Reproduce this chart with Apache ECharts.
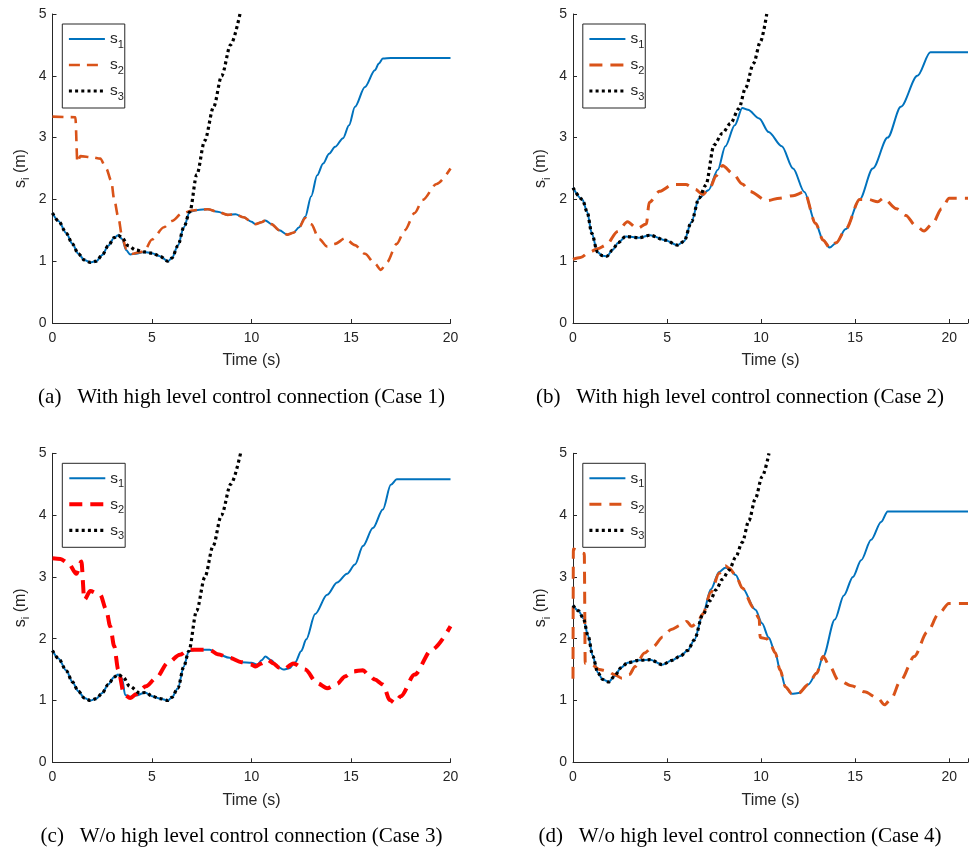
<!DOCTYPE html>
<html>
<head>
<meta charset="utf-8">
<script src="https://cdn.jsdelivr.net/npm/echarts@6/dist/echarts.min.js"></script>
<style>
html,body{margin:0;padding:0;background:#fff;}
#chart{width:971px;height:849px;}
</style>
</head>
<body>
<div id="chart"></div>
<script>
// ---------- data: [time (s), s_i (m)] ----------
const xTicksA = [0, 5, 10, 15, 20];
const yTicks = [0, 1, 2, 3, 4, 5];

const s1a = [[0,1.78],[0.3,1.65],[0.7,1.45],[1.0,1.28],[1.3,1.12],[1.6,1.02],[1.9,0.98],[2.2,1.0],[2.5,1.1],[2.8,1.25],[3.1,1.38],[3.3,1.42],[3.5,1.36],[3.7,1.18],[3.9,1.11],[4.2,1.12],[4.6,1.15],[5.0,1.13],[5.4,1.08],[5.8,1.0],[6.0,1.05],[6.3,1.25],[6.6,1.55],[6.9,1.8],[7.3,1.83],[7.8,1.84],[8.3,1.8],[8.8,1.75],[9.2,1.76],[9.6,1.71],[10.0,1.64],[10.2,1.6],[10.5,1.63],[10.7,1.66],[11.0,1.6],[11.4,1.5],[11.8,1.43],[12.1,1.46],[12.4,1.55],[12.7,1.72],[13.0,2.05],[13.3,2.39],[13.6,2.58],[13.9,2.74],[14.2,2.85],[14.6,2.99],[14.9,3.2],[15.2,3.5],[15.7,3.82],[16.2,4.09],[16.4,4.2],[16.6,4.28],[17.0,4.29],[20,4.29]];
const s2a = [[0,3.34],[1.15,3.33],[1.25,2.6],[1.4,2.7],[2.0,2.68],[2.4,2.66],[2.7,2.5],[2.95,2.3],[3.1,2.0],[3.3,1.72],[3.5,1.4],[3.7,1.2],[4.0,1.12],[4.3,1.14],[4.6,1.16],[5.0,1.35],[5.6,1.55],[6.0,1.65],[6.5,1.77],[7.0,1.82],[7.3,1.83],[7.8,1.84],[8.3,1.8],[8.8,1.75],[9.2,1.76],[9.6,1.71],[10.0,1.64],[10.2,1.6],[10.5,1.63],[10.7,1.66],[11.0,1.6],[11.4,1.5],[11.8,1.43],[12.1,1.46],[12.4,1.55],[12.7,1.7],[13.0,1.6],[13.4,1.36],[13.8,1.24],[14.2,1.28],[14.7,1.37],[15.2,1.26],[15.7,1.12],[16.2,0.96],[16.5,0.86],[16.8,0.98],[17.3,1.28],[17.7,1.5],[18.2,1.78],[18.6,1.99],[19.3,2.25],[20,2.5]];
const s3a = [[0,1.78],[0.3,1.65],[0.7,1.45],[1.0,1.28],[1.3,1.12],[1.6,1.02],[1.9,0.98],[2.2,1.0],[2.5,1.1],[2.8,1.25],[3.1,1.38],[3.3,1.42],[3.5,1.38],[3.8,1.25],[4.2,1.18],[4.6,1.15],[5.0,1.13],[5.4,1.08],[5.8,1.0],[6.0,1.05],[6.3,1.25],[6.6,1.55],[6.9,1.8],[7.25,2.4],[7.65,2.95],[8.1,3.5],[8.5,4.0],[8.95,4.5],[9.42,5.0]];

const s1b = [[0,2.19],[0.5,2.0],[0.75,1.8],[1.0,1.45],[1.3,1.15],[1.55,1.09],[1.8,1.08],[2.1,1.18],[2.4,1.3],[2.8,1.4],[3.5,1.38],[4.1,1.42],[4.9,1.34],[5.55,1.26],[5.9,1.32],[6.3,1.64],[6.7,2.02],[7.2,2.15],[7.7,2.48],[8.1,2.86],[8.6,3.2],[9.0,3.48],[9.3,3.45],[9.9,3.31],[10.4,3.09],[11.1,2.86],[11.7,2.5],[12.3,2.12],[12.9,1.61],[13.3,1.34],[13.65,1.22],[14.0,1.3],[14.5,1.52],[15.24,2.0],[15.94,2.5],[16.73,3.0],[17.43,3.5],[18.31,4.0],[19.0,4.38],[21,4.38]];
const s2b = [[0,1.03],[0.4,1.06],[0.9,1.15],[1.3,1.2],[1.76,1.26],[2.37,1.48],[2.9,1.64],[3.4,1.53],[3.9,1.6],[4.05,1.95],[4.6,2.13],[5.3,2.24],[6.0,2.24],[6.5,2.16],[6.9,2.08],[7.3,2.2],[7.6,2.38],[7.95,2.55],[8.5,2.42],[9.0,2.25],[9.4,2.13],[10.3,1.98],[11.0,2.02],[11.7,2.06],[12.3,2.12],[12.9,1.61],[13.3,1.34],[13.65,1.22],[14.0,1.3],[14.5,1.52],[15.24,2.0],[15.7,2.0],[16.2,1.96],[16.5,2.02],[17.2,1.85],[17.7,1.74],[18.2,1.58],[18.66,1.49],[19.1,1.6],[19.6,1.85],[20.0,2.02],[21,2.02]];
const s3b = [[0,2.19],[0.5,2.0],[0.75,1.8],[1.0,1.45],[1.3,1.15],[1.55,1.09],[1.8,1.08],[2.1,1.18],[2.4,1.3],[2.8,1.4],[3.5,1.38],[4.1,1.42],[4.9,1.34],[5.55,1.26],[5.9,1.32],[6.3,1.64],[6.7,2.02],[7.06,2.23],[7.5,2.88],[7.94,3.07],[8.38,3.23],[8.82,3.47],[9.17,3.8],[9.6,4.2],[9.96,4.55],[10.3,5.0]];

const s1c = [[0,1.81],[0.3,1.68],[0.7,1.48],[1.0,1.3],[1.3,1.15],[1.6,1.04],[1.9,1.0],[2.2,1.03],[2.5,1.12],[2.8,1.26],[3.1,1.38],[3.3,1.42],[3.5,1.35],[3.65,1.09],[3.9,1.06],[4.2,1.08],[4.65,1.13],[5.0,1.07],[5.4,1.03],[5.8,1.0],[6.0,1.05],[6.3,1.2],[6.6,1.55],[6.85,1.8],[7.2,1.82],[7.9,1.82],[8.3,1.75],[8.9,1.69],[9.5,1.62],[10.0,1.61],[10.3,1.58],[10.5,1.65],[10.7,1.71],[11.0,1.65],[11.3,1.55],[11.6,1.5],[11.9,1.52],[12.2,1.62],[12.5,1.8],[12.75,1.99],[13.2,2.4],[13.8,2.71],[14.3,2.91],[14.8,3.05],[15.2,3.2],[15.6,3.5],[16.1,3.79],[16.6,4.09],[17.0,4.49],[17.3,4.58],[20,4.58]];
const s2c = [[0,3.3],[0.4,3.29],[0.8,3.22],[1.2,3.05],[1.45,3.25],[1.6,2.63],[1.9,2.77],[2.4,2.71],[2.7,2.47],[2.9,2.2],[3.1,1.88],[3.3,1.5],[3.6,1.1],[3.9,1.04],[4.2,1.1],[4.7,1.23],[5.2,1.36],[5.8,1.61],[6.4,1.74],[6.85,1.82],[7.2,1.82],[7.9,1.82],[8.3,1.75],[8.9,1.69],[9.5,1.62],[10.0,1.58],[10.2,1.55],[10.5,1.6],[10.8,1.66],[11.1,1.6],[11.4,1.53],[11.6,1.5],[12.1,1.6],[12.7,1.5],[13.3,1.28],[13.8,1.2],[14.3,1.27],[14.7,1.39],[15.1,1.47],[15.6,1.49],[15.9,1.41],[16.2,1.34],[16.6,1.26],[16.95,1.01],[17.2,0.96],[17.5,1.07],[18.2,1.42],[19.05,1.82],[20,2.2]];
const s3c = [[0,1.81],[0.3,1.68],[0.7,1.48],[1.0,1.3],[1.3,1.15],[1.6,1.04],[1.9,1.0],[2.2,1.03],[2.5,1.12],[2.8,1.26],[3.1,1.38],[3.3,1.42],[3.55,1.38],[3.88,1.23],[4.39,1.12],[4.7,1.13],[5.0,1.07],[5.4,1.03],[5.8,1.0],[6.0,1.05],[6.3,1.2],[6.6,1.55],[6.85,1.8],[7.24,2.45],[7.66,3.0],[8.07,3.5],[8.49,4.0],[8.96,4.5],[9.45,5.0]];

const s1d = [[0,2.54],[0.3,2.45],[0.55,2.33],[0.8,2.05],[1.05,1.72],[1.32,1.45],[1.58,1.34],[1.9,1.3],[2.2,1.39],[2.55,1.53],[2.9,1.61],[3.5,1.65],[4.1,1.66],[4.75,1.58],[5.27,1.65],[5.7,1.72],[6.1,1.81],[6.45,1.98],[6.89,2.38],[7.33,2.8],[7.77,3.08],[8.1,3.15],[8.3,3.14],[8.65,3.03],[9.0,2.82],[9.7,2.47],[10.05,2.25],[10.4,2.02],[10.76,1.77],[11.0,1.5],[11.3,1.22],[11.63,1.11],[12.0,1.12],[12.51,1.26],[12.95,1.44],[13.3,1.71],[13.92,2.31],[14.4,2.7],[14.88,3.0],[15.32,3.27],[15.85,3.6],[16.38,3.89],[16.73,4.06],[21,4.06]];
const s2d = [[0,1.35],[0.02,3.45],[0.6,3.38],[0.65,1.6],[1.0,1.58],[1.4,1.5],[1.8,1.48],[2.2,1.42],[2.6,1.36],[3.0,1.42],[3.3,1.55],[3.8,1.77],[4.25,1.87],[4.78,2.03],[5.22,2.15],[5.75,2.22],[6.05,2.28],[6.3,2.2],[6.6,2.25],[6.9,2.4],[7.33,2.75],[7.77,3.06],[8.1,3.18],[8.3,3.14],[8.65,3.03],[9.0,2.82],[9.6,2.5],[9.9,2.32],[9.95,2.02],[10.3,2.0],[10.5,1.9],[10.76,1.77],[11.0,1.5],[11.3,1.22],[11.63,1.11],[12.0,1.12],[12.51,1.26],[12.95,1.44],[13.3,1.71],[13.66,1.55],[14.1,1.33],[14.8,1.24],[15.5,1.14],[16.2,1.04],[16.56,0.93],[16.9,1.02],[17.43,1.33],[18.14,1.71],[18.84,2.11],[19.46,2.41],[19.98,2.57],[21,2.57]];
const s3d = [[0,2.54],[0.3,2.45],[0.55,2.33],[0.8,2.05],[1.05,1.72],[1.32,1.45],[1.58,1.34],[1.9,1.3],[2.2,1.39],[2.55,1.53],[2.9,1.61],[3.5,1.65],[4.1,1.66],[4.75,1.58],[5.27,1.65],[5.7,1.72],[6.1,1.81],[6.45,1.98],[6.89,2.38],[7.3,2.62],[7.6,2.79],[7.94,2.96],[8.3,3.11],[8.65,3.32],[9.0,3.56],[9.35,3.91],[9.7,4.27],[10.05,4.62],[10.42,5.0]];

const captions = [
  '(a)\u2002 With high level control connection (Case 1)',
  '(b)\u2002 With high level control connection (Case 2)',
  '(c)\u2002 W/o high level control connection (Case 3)',
  '(d)\u2002 W/o high level control connection (Case 4)'
];
const xMax = [20, 21, 20, 21];

// ---------- styling ----------
const AX = '#262626';
const SANS = 'Liberation Sans';
const BLUE = '#0072BD', ORANGE = '#D95319', RED = '#FF0000', BLACK = '#000000';

const panels = [
  {left: 52.5, top: 14,  s: [s1a, s2a, s3a], s2c: ORANGE, s2w: 2.6, s2t: [11, 7]},
  {left: 573,  top: 14,  s: [s1b, s2b, s3b], s2c: ORANGE, s2w: 3.0, s2t: [13, 8]},
  {left: 52.5, top: 453.3, s: [s1c, s2c, s3c], s2c: RED, s2w: 4.0, s2t: [13, 8]},
  {left: 573,  top: 453.3, s: [s1d, s2d, s3d], s2c: ORANGE, s2w: 3.0, s2t: [12, 8]}
];
const tags = ['a', 'b', 'c', 'd'];

const grids = [], xAxes = [], yAxes = [], series = [], legends = [], graphics = [];
panels.forEach((p, i) => {
  grids.push({left: p.left, top: p.top, width: 398, height: 309, containLabel: false});
  xAxes.push({
    type: 'value', gridIndex: i, min: 0, max: xMax[i], interval: 5,
    axisLine: {show: true, onZero: false, lineStyle: {color: AX, width: 1}},
    axisTick: {show: true, inside: true, length: 4, lineStyle: {color: AX}},
    axisLabel: {color: AX, fontSize: 14, fontFamily: SANS, margin: 8,
      formatter: v => (xTicksA.indexOf(v) >= 0 ? String(v) : '')},
    splitLine: {show: false},
    name: 'Time (s)', nameLocation: 'middle', nameGap: 30,
    nameTextStyle: {color: AX, fontSize: 16, fontFamily: SANS}
  });
  yAxes.push({
    type: 'value', gridIndex: i, min: 0, max: 5, interval: 1,
    axisLine: {show: true, onZero: false, lineStyle: {color: AX, width: 1}},
    axisTick: {show: true, inside: true, length: 4, lineStyle: {color: AX}},
    axisLabel: {color: AX, fontSize: 14, fontFamily: SANS, margin: 6,
      formatter: v => (yTicks.indexOf(v) >= 0 ? String(v) : '')},
    splitLine: {show: false},
    name: '{m|s}{sub|i}{m| (m)}', nameLocation: 'middle', nameGap: 21,
    nameTextStyle: {color: AX, fontFamily: SANS, rich: {
      m: {fontSize: 16, lineHeight: 22, verticalAlign: 'middle', color: AX, fontFamily: SANS},
      sub: {fontSize: 11, lineHeight: 10, verticalAlign: 'bottom', color: AX, fontFamily: SANS}
    }}
  });
  const t = tags[i];
  const styles = [
    {color: BLUE, width: 2, type: 'solid'},
    {color: p.s2c, width: p.s2w, type: p.s2t},
    {color: BLACK, width: 3.2, type: [3, 3.2]}
  ];
  p.s.forEach((d, k) => {
    series.push({
      type: 'line', name: t + (k + 1), xAxisIndex: i, yAxisIndex: i,
      data: d, symbol: 'none', showSymbol: false,
      smooth: 0.3, smoothMonotone: 'x',
      lineStyle: {color: styles[k].color, width: styles[k].width, type: styles[k].type, cap: 'butt'},
      itemStyle: {color: styles[k].color},
      animation: false, silent: true
    });
  });
  legends.push({
    orient: 'vertical', left: p.left + 9.8, top: p.top + 10,
    data: [1, 2, 3].map(k => ({
      name: t + k,
      itemStyle: {opacity: 0, color: 'rgba(0,0,0,0)', borderWidth: 0},
      lineStyle: {width: styles[k - 1].width, type: styles[k - 1].type, color: styles[k - 1].color, opacity: 1}
    })),
    itemWidth: 36, itemHeight: 14, itemGap: 7,
    padding: [7, 1, 6, 5],
    borderColor: AX, borderWidth: 1, backgroundColor: '#fff',
    selectedMode: false,
    formatter: name => '{m|s}{sub|' + name.slice(1) + '}',
    textStyle: {color: AX, fontFamily: SANS, rich: {
      m: {fontSize: 15.5, lineHeight: 22, verticalAlign: 'middle', color: AX, fontFamily: SANS},
      sub: {fontSize: 11, lineHeight: 10, verticalAlign: 'bottom', color: AX, fontFamily: SANS}
    }}
  });
  graphics.push({
    type: 'text', x: (i % 2 === 0) ? 241.5 : 740, y: (i < 2) ? 397 : 836,
    style: {text: captions[i], font: '21px "Liberation Serif"', fill: '#000',
      textAlign: 'center', textVerticalAlign: 'middle'}
  });
});

const chart = echarts.init(document.getElementById('chart'), null, {renderer: 'canvas'});
chart.setOption({
  backgroundColor: '#fff',
  animation: false,
  grid: grids, xAxis: xAxes, yAxis: yAxes, series: series,
  legend: legends, graphic: graphics
});
</script>
</body>
</html>
